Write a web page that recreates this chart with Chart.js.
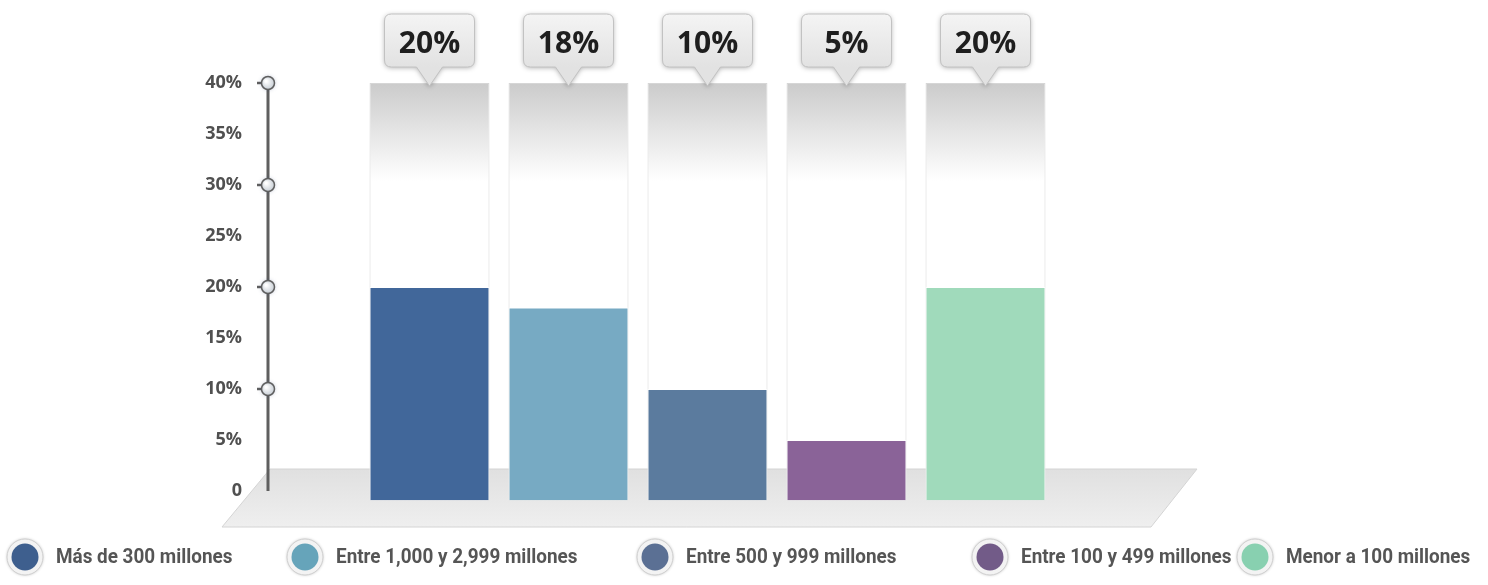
<!DOCTYPE html>
<html>
<head>
<meta charset="utf-8">
<script src="https://cdn.jsdelivr.net/npm/chart.js@4.4.1/dist/chart.umd.min.js"></script>
<style>
  html, body { margin: 0; padding: 0; background: #fff; }
  #wrap { width: 1488px; height: 585px; }
</style>
</head>
<body>
<div id="wrap"><canvas id="myChart" width="1488" height="585"></canvas></div>
<script>
const categories = [
    'Más de 300 millones',
    'Entre 1,000 y 2,999 millones',
    'Entre 500 y 999 millones',
    'Entre 100 y 499 millones',
    'Menor a 100 millones',
]
const values = [20, 18, 10, 5, 20]
const columnMax = [40, 40, 40, 40, 40]
const yTicks = [0, 5, 10, 15, 20, 25, 30, 35, 40]

const barColors = ['#41679a', '#77aac3', '#5b7b9e', '#8a6398', '#a0dabb']
const legendColors = ['#3e5f8e', '#66a4ba', '#5b7094', '#725b88', '#88d0b0']

const ctx = document.getElementById('myChart').getContext('2d')

//floor, y axis, callouts and legend
const decor = {
    id: 'decor',
    beforeDatasetsDraw(chart) {
        const c = chart.ctx
        const y = chart.scales.y
        const top = y.getPixelForValue(0) - 22
        const bottom = top + 58
        c.save()
        let g = c.createLinearGradient(0, top, 0, bottom)
        g.addColorStop(0, '#e0e0e0')
        g.addColorStop(1, '#efefef')
        c.fillStyle = g
        c.strokeStyle = '#d4d4d4'
        c.beginPath()
        c.moveTo(270, top)
        c.lineTo(1197, top)
        c.lineTo(1151, bottom)
        c.lineTo(222, bottom)
        c.closePath()
        c.fill()
        c.stroke()

        // axis line
        const axisX = 268
        c.strokeStyle = '#5f5f5f'
        c.lineWidth = 3
        c.beginPath()
        c.moveTo(axisX, y.getPixelForValue(40))
        c.lineTo(axisX, y.getPixelForValue(0))
        c.stroke()
        ;[10, 20, 30, 40].forEach(v => {
            const py = y.getPixelForValue(v)
            c.strokeStyle = '#5f5f5f'
            c.lineWidth = 2.5
            c.beginPath()
            c.moveTo(axisX - 11, py)
            c.lineTo(axisX, py)
            c.stroke()
            const rg = c.createRadialGradient(axisX - 2, py - 2, 1, axisX, py, 7)
            rg.addColorStop(0, '#ffffff')
            rg.addColorStop(1, '#c4cbd3')
            c.fillStyle = rg
            c.lineWidth = 1.5
            c.shadowColor = 'rgba(40,60,110,0.35)'
            c.shadowBlur = 4
            c.beginPath()
            c.arc(axisX, py, 6.5, 0, Math.PI * 2)
            c.fill()
            c.shadowBlur = 0
            c.stroke()
        })
        c.restore()
    },
    afterDatasetsDraw(chart) {
        const c = chart.ctx
        const meta = chart.getDatasetMeta(1)
        const colTop = chart.scales.y.getPixelForValue(40)
        c.save()
        meta.data.forEach((bar, i) => {
            const cx = bar.x
            const w = 90, h = 53, r = 7
            const bx = cx - w / 2, by = colTop - 69
            c.shadowColor = 'rgba(0,0,0,0.3)'
            c.shadowBlur = 5
            c.shadowOffsetY = 1
            const g = c.createLinearGradient(0, by, 0, by + h)
            g.addColorStop(0, '#f4f4f4')
            g.addColorStop(1, '#e2e2e2')
            c.fillStyle = g
            c.strokeStyle = '#c2c2c2'
            c.lineWidth = 1
            c.beginPath()
            c.moveTo(bx + r, by)
            c.lineTo(bx + w - r, by)
            c.quadraticCurveTo(bx + w, by, bx + w, by + r)
            c.lineTo(bx + w, by + h - r)
            c.quadraticCurveTo(bx + w, by + h, bx + w - r, by + h)
            c.lineTo(cx + 13, by + h)
            c.lineTo(cx, by + h + 19)
            c.lineTo(cx - 13, by + h)
            c.lineTo(bx + r, by + h)
            c.quadraticCurveTo(bx, by + h, bx, by + h - r)
            c.lineTo(bx, by + r)
            c.quadraticCurveTo(bx, by, bx + r, by)
            c.closePath()
            c.fill()
            c.shadowBlur = 0
            c.shadowOffsetY = 0
            c.stroke()
            c.fillStyle = '#1e1e1e'
            c.font = 'bold 30px "Open Sans"'
            c.textAlign = 'center'
            c.textBaseline = 'middle'
            c.fillText(values[i] + '%', cx, by + h / 2 + 4)
        })
        c.restore()
    },
    afterDraw(chart) {
        const c = chart.ctx
        const xs = [25, 305, 655, 990, 1255]
        const ly = 557
        c.save()
        categories.forEach((name, i) => {
            const x = xs[i]
            c.shadowColor = 'rgba(0,0,0,0.25)'
            c.shadowBlur = 3
            c.fillStyle = '#f3f3f3'
            c.beginPath()
            c.arc(x, ly, 18, 0, Math.PI * 2)
            c.fill()
            c.shadowBlur = 0
            c.strokeStyle = '#cfcfcf'
            c.lineWidth = 1
            c.stroke()
            c.fillStyle = legendColors[i]
            c.beginPath()
            c.arc(x, ly, 13.5, 0, Math.PI * 2)
            c.fill()
            c.save()
            c.translate(x + 31, ly + 1)
            c.scale(0.9, 1)
            c.fillStyle = '#555'
            c.font = 'bold 21px "Roboto", sans-serif'
            c.textAlign = 'left'
            c.textBaseline = 'middle'
            c.fillText(name, 0, 0)
            c.restore()
        })
        c.restore()
    }
}

const data = {
    labels: categories,
    datasets: [
    {
        label: 'Porcentaje',
        data: values,
        backgroundColor: barColors,
        borderColor: 'rgba(255,255,255,0.85)',
        borderWidth: 1,
        base: -0.9,
        clip: false,
        grouped: false,
        order: 0,
    },
    {
        label: 'Fondo',
        data: columnMax,
        backgroundColor: (context) => {
            const area = context.chart.chartArea
            if (!area) return '#fff'
            const g = context.chart.ctx.createLinearGradient(0, area.top, 0, area.bottom)
            g.addColorStop(0, '#cbcbcb')
            g.addColorStop(0.24, '#ffffff')
            g.addColorStop(1, '#ffffff')
            return g
        },
        borderColor: '#d6d6d6',
        borderWidth: 1,
        base: -0.9,
        clip: false,
        grouped: false,
        order: 1,
    },
],
}

const config = {
    type: 'bar',
    data: data,
    plugins: [decor],
    options: {
        responsive: false,
        animation: false,
        barPercentage: 0.863,
        categoryPercentage: 1,
        layout: {
            padding: { top: 83, bottom: 94, left: 0, right: 433 },
        },
        plugins: {
            legend: { display: false },
            tooltip: { enabled: false },
        },
        scales: {
            x: { display: false },
            y: {
                min: 0,
                max: 40,
                afterFit: (scale) => {
                    scale.width = 360
                    scale.paddingTop = 10
                    scale.paddingBottom = 10
                },
                afterBuildTicks: (scale) => { scale.ticks = yTicks.map(v => ({ value: v })) },
                grid: { display: false, drawTicks: false },
                border: { display: false },
                ticks: {
                    padding: 118,
                    color: '#505050',
                    font: { family: 'Open Sans', size: 18, weight: 'bold' },
                    callback: function (value) {
                        return value === 0 ? '0' : value + '%'
                    },
                },
            },
        },
    },
}

const myChart = new Chart(ctx, config)
</script>
</body>
</html>
